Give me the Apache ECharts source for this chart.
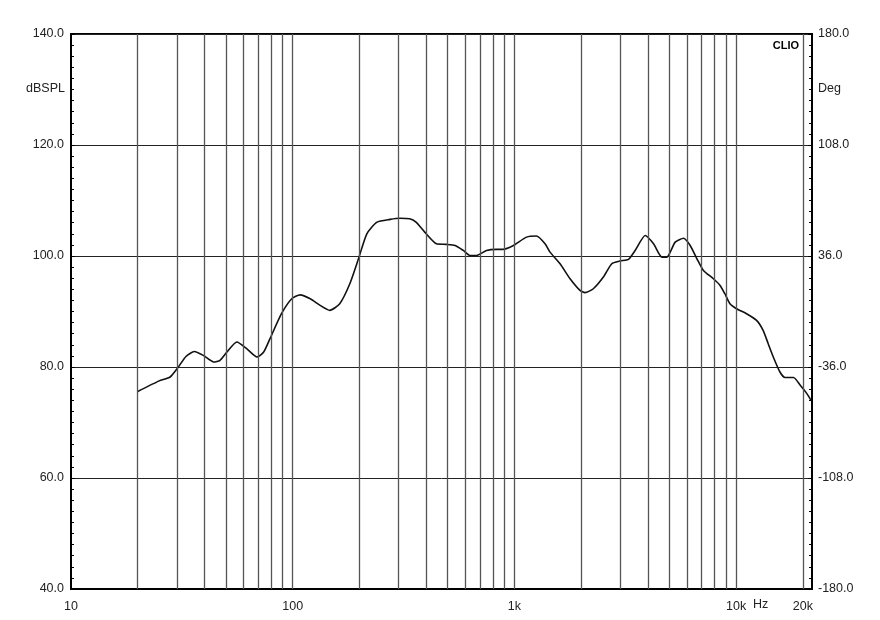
<!DOCTYPE html>
<html>
<head>
<meta charset="utf-8">
<script src="https://cdn.jsdelivr.net/npm/echarts@6/dist/echarts.min.js"></script>
<style>html,body{margin:0;padding:0;background:#fff;}#c{width:880px;height:620px;}</style>
</head>
<body>
<div id="c"></div>
<script>
// Frequency (Hz) and SPL (dB)
const freqs = [20,25,28,30.5,33,36,39.5,44,47,50.5,56,62,69,74,79,89,99,108,120,133,147,163,181,198,216,240,275,304,337,360,394,445,492,540,588,630,675,748,830,888,990,1135,1258,1375,1448,1607,1783,1977,2082,2270,2520,2750,2998,3270,3505,3890,4243,4627,4873,5313,5795,6207,6657,7121,7900,8466,8900,9380,10050,11150,12370,13240,13960,14720,15770,16630,18160,19470,20860,21780];
const spl = [75.6,77.5,78.2,80.0,81.9,82.8,82.1,80.9,81.2,82.7,84.5,83.3,81.8,82.7,85.1,89.6,92.3,93.0,92.3,91.1,90.2,91.4,95.0,99.5,104.0,106.1,106.6,106.8,106.7,106.1,104.3,102.2,102.1,101.9,101.0,100.1,100.1,101.0,101.2,101.2,101.9,103.4,103.6,102.2,100.7,98.6,95.9,93.8,93.4,94.1,96.2,98.6,99.1,99.4,101.0,103.7,102.2,99.8,99.8,102.5,103.2,101.9,99.5,97.4,95.9,94.7,93.2,91.4,90.5,89.6,88.4,86.6,84.2,81.8,79.1,78.1,78.1,76.7,75.2,74.0];
const gridFreqs = [20,30,40,50,60,70,80,90,100,200,300,400,500,600,700,800,900,1000,2000,3000,4000,5000,6000,7000,8000,9000,10000,20000];
const xLabelValues = [10,100,1000,10000,20000];
const xLabelText = {10:'10',100:'100',1000:'1k',10000:'10k',20000:'20k'};

const chart = echarts.init(document.getElementById('c'), null, {renderer:'canvas'});
const font = 'Liberation Sans, Arial, sans-serif';
chart.setOption({
  animation:false,
  backgroundColor:'#fff',
  grid:{left:71,right:68,top:34,bottom:31,show:true,borderColor:'#000',borderWidth:2,backgroundColor:'transparent'},
  xAxis:{
    type:'log', logBase:10, min:10, max:22000,
    axisLine:{show:true,onZero:false,lineStyle:{color:'#000',width:2}},
    axisTick:{show:false},
    splitLine:{show:false},
    minorTick:{show:false},
    axisLabel:{
      color:'#222', fontFamily:font, fontSize:12.5, margin:11,
      customValues:xLabelValues,
      formatter:v=>xLabelText[Math.round(v)]||''
    }
  },
  yAxis:[{
    type:'value', min:40, max:140, interval:20, position:'left',
    axisLine:{show:true,lineStyle:{color:'#000',width:2}},
    axisTick:{show:true,inside:true,length:4,lineStyle:{color:'#000'}},
    minorTick:{show:true,splitNumber:10,length:3,lineStyle:{color:'#000'}},
    splitLine:{show:true,lineStyle:{color:'#222',width:1}},
    axisLabel:{color:'#222',fontFamily:font,fontSize:12.5,margin:7,formatter:v=>v.toFixed(1)}
  },{
    type:'value', min:-180, max:180, interval:72, position:'right',
    axisLine:{show:true,lineStyle:{color:'#000',width:2}},
    axisTick:{show:true,inside:true,length:4,lineStyle:{color:'#000'}},
    minorTick:{show:true,splitNumber:10,length:3,lineStyle:{color:'#000'}},
    splitLine:{show:false},
    axisLabel:{color:'#222',fontFamily:font,fontSize:12.5,margin:6,formatter:v=>v.toFixed(1)}
  }],
  series:[{
    type:'line', data:[], silent:true, z:1,
    markLine:{silent:true,symbol:['none','none'],label:{show:false},
      lineStyle:{color:'#555',width:1.3,type:'solid'},
      data:gridFreqs.map(f=>({xAxis:f}))}
  },{
    type:'line', z:3,
    data:freqs.map((f,i)=>[f,spl[i]]),
    showSymbol:false, smooth:0.2,
    lineStyle:{color:'#111',width:1.6}
  }],
  graphic:[
    {type:'text',right:880-65,top:82,style:{text:'dBSPL',fill:'#222',font:'12.5px '+font,textAlign:'right'}},
    {type:'text',left:818,top:82,style:{text:'Deg',fill:'#222',font:'12.5px '+font}},
    {type:'text',left:753,top:598,style:{text:'Hz',fill:'#222',font:'12.5px '+font}},
    {type:'text',right:80,top:39,z:10,style:{text:'CLIO',fill:'#000',font:'bold 11px '+font,backgroundColor:'#fff',padding:[1,1,3,1]}}
  ]
});
</script>
</body>
</html>
